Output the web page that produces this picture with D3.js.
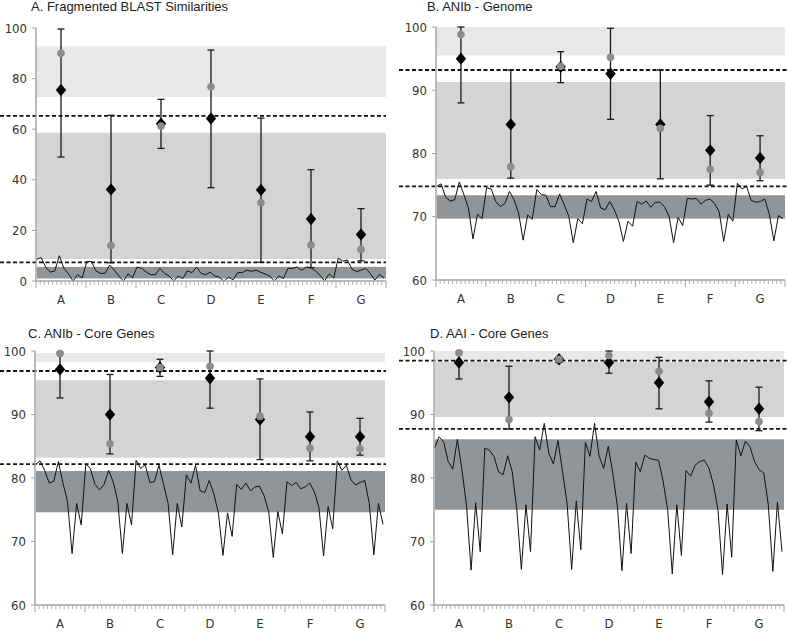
<!DOCTYPE html>
<html><head><meta charset="utf-8">
<script src="https://cdn.jsdelivr.net/npm/d3@7"></script>
<style>
body{margin:0;background:#fff;}
svg{display:block;}
.tick-label{font-family:"Liberation Sans Narrow","DejaVu Sans Condensed","Liberation Sans",Arial,sans-serif;font-size:13px;fill:#333;}
.title{font-family:"Liberation Sans",Arial,sans-serif;font-size:13px;fill:#222;}
</style></head>
<body>
<svg id="chart" width="787" height="632"></svg>
<script>
// ---------- data ----------
const categories = ["A","B","C","D","E","F","G"];
const titles = ["A. Fragmented BLAST Similarities","B. ANIb - Genome","C. ANIb - Core Genes","D. AAI - Core Genes"];

const yTicksA = [0,20,40,60,80,100];
const yTicksB = [60,70,80,90,100];

// Panel A
const meanA   = [75.5,36.2,62.2,64.2,36.0,24.5,18.4];
const medianA = [90.0,14.0,61.2,76.8,30.9,14.2,12.5];
const lowA    = [49.0,7.2,52.4,36.9,7.4,5.3,8.0];
const highA   = [99.6,65.5,71.8,91.3,64.4,44.0,28.6];
const bandsA  = [[72.7,92.7,"light"],[8.7,58.6,"mid"],[1.0,5.6,"dark"]];
const cutsA   = [65.3,7.4];
const lineA = [
  8.5,9.3,5.5,3.5,4,10,5,2.8,0,2.5,1.2,
  7.7,7.7,4,3,3,6.3,4.3,2,0,2.8,1.3,
  5.5,5,3.5,2.5,2.5,5,3,2,0,2,1,
  4,3.3,5.5,3,2.5,3.5,2,1.5,0,1.5,0.5,
  3.3,3.3,4.3,3.8,4.3,3.5,2.8,2,0,2,1,
  5,5,5.5,4.2,5.5,5.3,4,2.3,0,2.8,1.2,
  9,7.9,8.3,4.7,3.7,4.3,5,3,0.3,2.6,1.2
];

// Panel B
const meanB   = [95.0,84.6,93.7,92.6,84.6,80.5,79.3];
const medianB = [98.8,77.9,93.8,95.2,84.0,77.5,77.0];
const lowB    = [88.0,76.1,91.2,85.4,76.0,75.0,75.7];
const highB   = [100.0,93.2,96.1,99.8,93.2,86.0,82.8];
const bandsB  = [[95.5,100,"light"],[76.0,91.3,"mid"],[69.7,73.4,"dark"]];
const cutsB   = [93.2,74.8];
const lineB = [
  74.8,75.2,73.1,72.5,72.7,75.5,73.5,71.4,66.5,70.4,69.7,
  74.6,74.4,72.4,71.6,72.1,74,72.7,70.6,66.3,70.3,69.6,
  74.3,73.5,73.4,71.6,71.6,73.6,71.9,70.1,65.9,69.7,68.9,
  72.8,72.4,74,71.4,71.1,72.4,71.1,69.3,66.1,69.3,68.5,
  72.4,72,72.5,71.5,72.3,72.3,71.6,70.1,65.9,69.9,68.6,
  72.9,72.8,72.9,72,72.6,72.8,72.1,70.8,66.1,70.4,69.3,
  75.3,74.4,74.8,72.6,72.3,72.4,72.8,70.4,66.2,70.2,69.7
];

// Panel C
const meanC   = [97.1,90.0,97.4,95.7,89.2,86.5,86.5];
const medianC = [99.6,85.4,97.4,97.6,89.7,84.7,84.6];
const lowC    = [92.6,83.8,96.0,91.0,82.9,82.7,83.6];
const highC   = [99.8,96.3,98.7,100.0,95.6,90.4,89.4];
const bandsC  = [[98.3,99.7,"light"],[83.2,95.4,"mid"],[74.6,81.1,"dark"]];
const cutsC   = [96.85,82.2];
const lineC = [
  82.1,82.7,81.2,79.2,79.5,82.6,79.2,76.3,68.1,76,72.6,
  82.2,81.5,79,78.1,79,81.2,79.4,76.3,68.1,76,72.6,
  82.8,81.5,82.1,79.3,79.4,82,79,76,67.9,76,72.3,
  80.5,79.2,82,78,77.7,79.6,77.5,74.5,67.8,74.5,70.8,
  79,78.2,79.2,78,78.6,78.7,77.2,74.7,67.5,74.7,71.2,
  79.4,78.8,79.3,78.3,78.6,79.2,77.8,75.3,67.7,75.5,72,
  82.7,81.2,82,79.7,78.9,79.3,79.6,76,67.9,76,72.7
];

// Panel D
const meanD   = [98.2,92.7,98.7,98.2,95.0,92.0,90.9];
const medianD = [99.7,89.2,98.7,99.3,96.8,90.2,88.9];
const lowD    = [95.6,87.7,98.2,96.5,90.9,88.8,87.45];
const highD   = [99.9,97.6,99.0,100.0,99.0,95.3,94.3];
const bandsD  = [[98.5,100,"light"],[89.6,98.3,"mid"],[75.0,86.1,"dark"]];
const cutsD   = [98.5,87.75];
const lineD = [
  84.7,86.5,85.7,82.6,81.4,86.1,81.3,75.7,65.5,76.1,68.4,
  84.7,84.4,83.4,81,80.5,83.5,81,75,65.6,75.8,68.4,
  86.5,84.4,88.6,83.9,82.2,85.9,81,76,65.6,76.4,68.7,
  85.6,83.4,88.6,83.5,81.5,85,80.7,75.5,65.4,76,68.1,
  82.5,81,83.6,83.1,82.9,82.8,79.5,75,64.9,75.8,67.8,
  81.2,80.3,82,82.6,82.8,81.6,79,75,64.8,75.9,67.5,
  86,83.5,85.8,84.9,82.6,81.3,80.8,75.8,65.3,76.2,68.4
];

// ---------- layout ----------
const bandColor = {light:"#e8e8ea", mid:"#d3d4d6", dark:"#929597"};
const panels = [
  {title:titles[0], tx:31, ty:11, x0:36, x1:386, yTop:28, yBot:281, domain:[0,100], ticks:yTicksA,
   mean:meanA, median:medianA, low:lowA, high:highA, bands:bandsA, cuts:cutsA, line:lineA, dx0:0, dx1:386},
  {title:titles[1], tx:427, ty:11, x0:436, x1:785, yTop:27, yBot:280, domain:[60,100], ticks:yTicksB,
   mean:meanB, median:medianB, low:lowB, high:highB, bands:bandsB, cuts:cutsB, line:lineB, dx0:399, dx1:787},
  {title:titles[2], tx:28, ty:338, x0:35, x1:385, yTop:351, yBot:605, domain:[60,100], ticks:yTicksB,
   mean:meanC, median:medianC, low:lowC, high:highC, bands:bandsC, cuts:cutsC, line:lineC, dx0:0, dx1:386},
  {title:titles[3], tx:430, ty:338, x0:434, x1:784, yTop:351, yBot:605, domain:[60,100], ticks:yTicksB,
   mean:meanD, median:medianD, low:lowD, high:highD, bands:bandsD, cuts:cutsD, line:lineD, dx0:399, dx1:787}
];

const svg = d3.select("#chart");

panels.forEach(p => {
  const g = svg.append("g");
  const y = d3.scaleLinear().domain(p.domain).range([p.yBot, p.yTop]);
  const x = d3.scaleBand().domain(categories).range([p.x0, p.x1]);
  const xl = d3.scaleLinear().domain([0, p.line.length - 1]).range([p.x0 + 0.5, p.x1 - 2]);

  // title
  g.append("text").attr("class","title").attr("x",p.tx).attr("y",p.ty).text(p.title);

  // bands
  g.selectAll("rect.band").data(p.bands).join("rect")
    .attr("x", p.x0 + 1).attr("width", p.x1 - p.x0 - 1)
    .attr("y", d => y(d[1])).attr("height", d => y(d[0]) - y(d[1]))
    .attr("fill", d => bandColor[d[2]]);

  // line
  g.append("path").datum(p.line)
    .attr("fill","none").attr("stroke","#111").attr("stroke-width",1)
    .attr("stroke-linejoin","miter")
    .attr("d", d3.line().x((d,i) => xl(i)).y(d => y(d)));

  // dashed thresholds
  g.selectAll("line.cut").data(p.cuts).join("line")
    .attr("x1", p.dx0).attr("x2", p.dx1)
    .attr("y1", d => y(d)).attr("y2", d => y(d))
    .attr("stroke","#111").attr("stroke-width",1.8).attr("stroke-dasharray","4,2.5");

  // axes
  const axisColor = "#a3a3a3";
  g.append("line").attr("x1",p.x0).attr("x2",p.x0).attr("y1",p.yTop).attr("y2",p.yBot)
    .attr("stroke",axisColor).attr("stroke-width",1.5);
  g.append("line").attr("x1",p.x0).attr("x2",p.x1).attr("y1",p.yBot).attr("y2",p.yBot)
    .attr("stroke",axisColor).attr("stroke-width",1.5);
  // y ticks
  g.selectAll("line.yt").data(p.ticks).join("line")
    .attr("x1",p.x0 - 4).attr("x2",p.x0).attr("y1",d=>y(d)).attr("y2",d=>y(d))
    .attr("stroke",axisColor).attr("stroke-width",1);
  g.selectAll("text.yl").data(p.ticks).join("text").attr("class","tick-label")
    .attr("x",p.x0 - 9).attr("y",d=>y(d)+4.5).attr("text-anchor","end").text(d=>d);
  // x major ticks
  const bounds = categories.map(c => x(c)).concat([p.x1]);
  g.selectAll("line.xt").data(bounds).join("line")
    .attr("x1",d=>d).attr("x2",d=>d).attr("y1",p.yBot).attr("y2",p.yBot+7)
    .attr("stroke",axisColor).attr("stroke-width",1);
  // x minor ticks
  const minor = [];
  categories.forEach(c => { for (let k = 1; k < 12; k++) minor.push(x(c) + k * x.bandwidth() / 12); });
  g.selectAll("line.xm").data(minor).join("line")
    .attr("x1",d=>d).attr("x2",d=>d).attr("y1",p.yBot).attr("y2",p.yBot+4)
    .attr("stroke",axisColor).attr("stroke-width",0.8);
  g.selectAll("text.xl").data(categories).join("text").attr("class","tick-label")
    .attr("x",d=>x(d)+x.bandwidth()/2).attr("y",p.yBot+23).attr("text-anchor","middle").text(d=>d);

  // error bars
  const cx = i => x(categories[i]) + x.bandwidth()/2;
  const idx = d3.range(categories.length);
  const eb = g.selectAll("g.eb").data(idx).join("g");
  eb.append("line").attr("x1",cx).attr("x2",cx).attr("y1",i=>y(p.low[i])).attr("y2",i=>y(p.high[i]))
    .attr("stroke","#1a1a1a").attr("stroke-width",1.3);
  eb.append("line").attr("x1",i=>cx(i)-3.5).attr("x2",i=>cx(i)+3.5).attr("y1",i=>y(p.low[i])).attr("y2",i=>y(p.low[i]))
    .attr("stroke","#1a1a1a").attr("stroke-width",1.3);
  eb.append("line").attr("x1",i=>cx(i)-3.5).attr("x2",i=>cx(i)+3.5).attr("y1",i=>y(p.high[i])).attr("y2",i=>y(p.high[i]))
    .attr("stroke","#1a1a1a").attr("stroke-width",1.3);

  // diamonds (mean)
  g.selectAll("path.dm").data(idx).join("path")
    .attr("d","M0,-6.2L5.2,0L0,6.2L-5.2,0Z")
    .attr("transform",i=>`translate(${cx(i)},${y(p.mean[i])})`)
    .attr("fill","#000");
  // gray circles (median)
  g.selectAll("circle.md").data(idx).join("circle")
    .attr("cx",cx).attr("cy",i=>y(p.median[i])).attr("r",3.8)
    .attr("fill","#8c8c8c");
});
</script>
</body></html>
